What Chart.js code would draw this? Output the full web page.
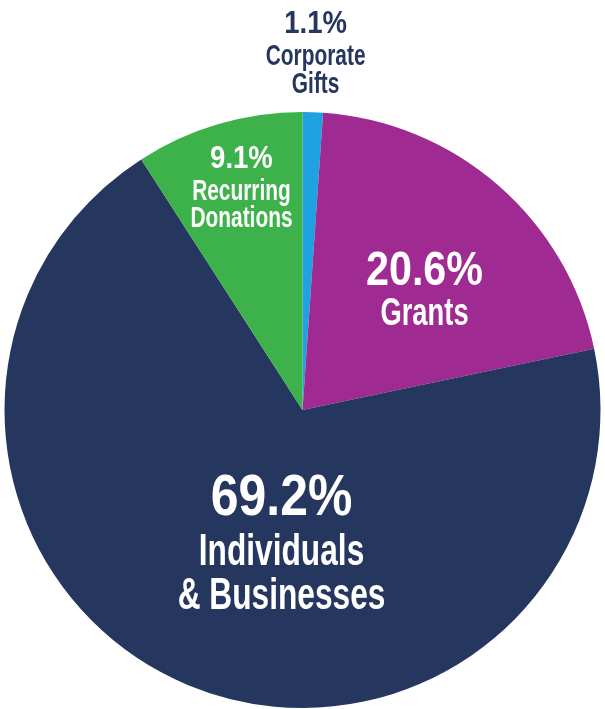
<!DOCTYPE html>
<html>
<head>
<meta charset="utf-8">
<script src="https://cdn.jsdelivr.net/npm/chart.js@4/dist/chart.umd.min.js"></script>
<style>
  html, body { margin: 0; padding: 0; background: #fff; }
  #wrap { width: 605px; height: 709px; position: relative; }
</style>
</head>
<body>
<div id="wrap"><canvas id="myChart"></canvas></div>
<script>
// slices, clockwise from 12 o'clock
let categories = ['Corporate Gifts', 'Grants', 'Individuals & Businesses', 'Recurring Donations'];
let shares = [1.1, 20.6, 69.2, 9.1];
let labelLines = [['Corporate', 'Gifts'], ['Grants'], ['Individuals', '& Businesses'], ['Recurring', 'Donations']];
let sliceColors = ['#1ea2e2', '#9e2a92', '#25365f', '#3db24b'];

// where each label block sits: angle from top (deg), distance as part of the radius
let labelPlace = [
    { angle: 2.1, dist: 1.204, color: '#25365f', pct: 32, txt: 29, lines: [-18.5, 13.5, 41.5] },
    { angle: 45.1, dist: 0.578, color: '#ffffff', pct: 48, txt: 38, lines: [-3.5, 36.5] },
    { angle: 189.1, dist: 0.445, color: '#ffffff', pct: 58, txt: 44, lines: [-26, 24, 68] },
    { angle: 344.7, dist: 0.776, color: '#ffffff', pct: 32, txt: 29, lines: [-19, 13, 40] }
];

const FONT = '"Liberation Sans", Arial, sans-serif';

function squeezeText(c, str, x, y, size, sx) {
    c.save();
    c.font = 'bold ' + size + 'px ' + FONT;
    c.translate(x, y);
    c.scale(sx, 1);
    c.textAlign = 'center';
    c.textBaseline = 'alphabetic';
    c.fillText(str, 0, 0);
    c.restore();
}

let sliceLabels = {
    id: 'sliceLabels',
    afterDatasetsDraw(chart) {
        let c = chart.ctx;
        let arcs = chart.getDatasetMeta(0).data;
        arcs.forEach((arc, i) => {
            let p = labelPlace[i];
            let a = p.angle * Math.PI / 180;
            let x = arc.x + Math.sin(a) * arc.outerRadius * p.dist;
            let y = arc.y - Math.cos(a) * arc.outerRadius * p.dist;
            c.fillStyle = p.color;
            squeezeText(c, shares[i].toFixed(1) + '%', x, y + p.lines[0], p.pct, 0.86);
            labelLines[i].forEach((t, j) => {
                squeezeText(c, t, x, y + p.lines[j + 1], p.txt, 0.72);
            });
        });
    }
};

let ctx = document.getElementById('myChart').getContext('2d');
let myChart = new Chart(ctx, {
    type: 'pie',
    data: {
        labels: categories,
        datasets: [{
            data: shares,
            backgroundColor: sliceColors,
            borderWidth: 0
        }]
    },
    options: {
        responsive: true,
        maintainAspectRatio: false,
        animation: false,
        layout: { padding: { top: 112, bottom: 1, left: 2, right: 2 } },
        plugins: {
            legend: { display: false },
            tooltip: { enabled: false }
        }
    },
    plugins: [sliceLabels]
});
</script>
</body>
</html>
